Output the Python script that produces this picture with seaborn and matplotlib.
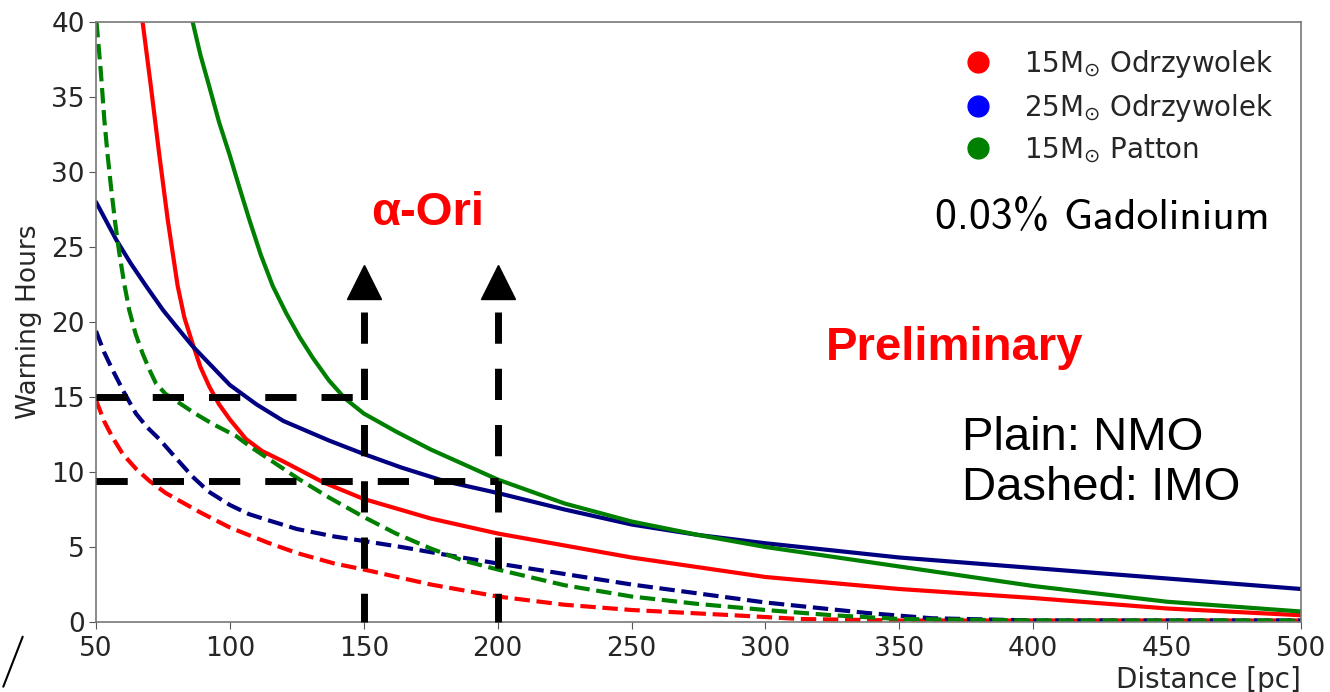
import seaborn as sns
import matplotlib.pyplot as plt
from matplotlib.lines import Line2D
import pandas as pd

# warning hours vs distance
# solid = NMO, dashed = IMO
red_nmo_x = [67.4, 70.5, 73.6, 76.8, 80.5, 83, 86, 89, 92.3, 96, 100, 106, 112, 120, 135, 150, 175, 200, 225, 250, 300, 350, 400, 450, 500]
red_nmo_y = [40, 35.7, 31.2, 26.8, 22.4, 20.3, 18.6, 17.0, 15.7, 14.5, 13.5, 12.2, 11.4, 10.7, 9.3, 8.2, 6.9, 5.9, 5.1, 4.3, 3.0, 2.2, 1.6, 0.9, 0.45]

blue_nmo_x = [50, 57.5, 63, 68.7, 75, 80, 86, 93, 100, 110, 120, 137, 150, 164, 180, 200, 225, 250, 275, 300, 350, 400, 450, 500]
blue_nmo_y = [28.0, 25.5, 23.9, 22.4, 20.8, 19.7, 18.4, 17.1, 15.8, 14.5, 13.4, 12.1, 11.2, 10.3, 9.4, 8.6, 7.5, 6.5, 5.8, 5.25, 4.3, 3.6, 2.9, 2.2]

green_nmo_x = [86.1, 89, 92.3, 96, 99.8, 103.5, 107.3, 111.5, 116, 121, 126, 131, 137, 143, 150, 162, 175, 200, 225, 250, 275, 300, 350, 400, 450, 500]
green_nmo_y = [40, 37.8, 35.7, 33.3, 31.2, 29.0, 26.8, 24.5, 22.4, 20.6, 19.0, 17.6, 16.1, 14.9, 13.9, 12.7, 11.5, 9.5, 7.9, 6.7, 5.8, 5.0, 3.7, 2.4, 1.35, 0.7]

red_imo_x = [50, 53, 56.2, 60, 65, 70, 76, 82, 89, 100, 114, 125, 139, 150, 175, 200, 225, 250, 288, 313, 350, 400, 450, 500]
red_imo_y = [14.8, 13.4, 12.3, 11.2, 10.2, 9.4, 8.6, 8.0, 7.3, 6.3, 5.3, 4.6, 3.9, 3.5, 2.5, 1.7, 1.15, 0.8, 0.45, 0.2, 0.1, 0.1, 0.1, 0.1]

blue_imo_x = [50, 53, 56.2, 60.5, 64.9, 69, 73.6, 80, 86, 92, 100, 107, 114, 125, 139, 150, 164, 180, 200, 225, 250, 275, 300, 338, 362, 400, 450, 500]
blue_imo_y = [19.4, 18.0, 16.8, 15.3, 13.9, 13.0, 12.2, 10.9, 9.7, 8.7, 7.8, 7.2, 6.8, 6.2, 5.7, 5.4, 5.0, 4.5, 3.9, 3.2, 2.5, 1.9, 1.3, 0.6, 0.25, 0.1, 0.1, 0.1]

green_imo_x = [50.2, 51.8, 53.1, 54.3, 55.6, 57.1, 58.7, 60.5, 62.4, 64.8, 67.4, 70, 72.4, 76, 81.1, 87, 93.6, 102.3, 107.5, 126, 137, 150, 162, 175, 187, 200, 225, 250, 275, 300, 325, 350, 400, 450, 500]
green_imo_y = [40, 36.7, 33.5, 31.2, 29.0, 26.7, 24.6, 22.6, 20.8, 19.2, 17.9, 16.8, 15.9, 15.2, 14.6, 13.9, 13.2, 12.4, 11.7, 9.5, 8.3, 7.0, 5.9, 4.9, 4.1, 3.5, 2.45, 1.7, 1.2, 0.8, 0.45, 0.2, 0.1, 0.1, 0.1]

legend_labels = [r"15M$_{\odot}$ Odrzywolek", r"25M$_{\odot}$ Odrzywolek", r"15M$_{\odot}$ Patton"]
legend_colors = ["red", "blue", "green"]

# alpha-Ori guide lines
guide_h = [15, 9.4]
guide_h_end = [150, 200]
guide_v = [150, 200]
guide_top = 20.7
arrow_y = 22.7

sns.set_style("ticks")
plt.rcParams["font.family"] = ["DejaVu Sans"]

fig, ax = plt.subplots(figsize=(13.3, 6.92), dpi=100)
fig.subplots_adjust(left=96/1330, right=1301/1330, top=1-22/692, bottom=1-622/692)

curves = [
    (red_nmo_x, red_nmo_y, "red", "-"),
    (blue_nmo_x, blue_nmo_y, "navy", "-"),
    (green_nmo_x, green_nmo_y, "green", "-"),
    (red_imo_x, red_imo_y, "red", "--"),
    (blue_imo_x, blue_imo_y, "navy", "--"),
    (green_imo_x, green_imo_y, "green", "--"),
]
for xs, ys, c, ls in curves:
    df = pd.DataFrame({"x": xs, "y": ys})
    sns.lineplot(data=df, x="x", y="y", color=c, linestyle=ls, linewidth=3, ax=ax)

dash = (0, (4.5, 3.6))
for y, xe in zip(guide_h, guide_h_end):
    ax.plot([50, xe], [y, y], color="black", lw=5, linestyle=dash, zorder=5)
for x in guide_v:
    ax.plot([x, x], [guide_top, 0], color="black", lw=5, linestyle=dash, zorder=5, clip_on=False)
    ax.plot([x], [arrow_y], marker="^", markersize=24, color="black", zorder=5, clip_on=False)

ax.set_xlim(50, 500)
ax.set_ylim(0, 40)
ax.set_xticks(range(50, 501, 50))
ax.set_yticks(range(0, 41, 5))
ax.tick_params(labelsize=19, length=5, color="#555555")
ax.tick_params(axis="x", pad=5)
ax.tick_params(axis="y", pad=3)
for s in ax.spines.values():
    s.set_color("#777777")
    s.set_linewidth(1.2)
ax.set_xlabel("Distance [pc]", fontsize=20, loc="right", labelpad=3)
ax.set_ylabel("Warning Hours", fontsize=19, labelpad=7)

handles = [Line2D([], [], marker="o", linestyle="none", color=c, markersize=15) for c in legend_colors]
ax.legend(handles, legend_labels, loc="upper right", bbox_to_anchor=(0.998, 0.998),
          frameon=False, fontsize=20, labelspacing=0.42, handletextpad=0.9, handlelength=1.5)

tx = lambda px: (px - 96) / 1205
ty = lambda py: (622 - py) / 600
ax.text(tx(428), ty(213), "α-Ori", color="red", fontsize=34, fontweight="bold",
        family="Liberation Sans", ha="center", va="center", transform=ax.transAxes)
ax.text(tx(826), ty(348), "Preliminary", color="red", fontsize=34, fontweight="bold",
        family="Liberation Sans", ha="left", va="center", transform=ax.transAxes)
ax.text(tx(962), ty(463), "Plain: NMO\nDashed: IMO", color="black", fontsize=34,
        family="Liberation Sans", ha="left", va="center", linespacing=1.15, transform=ax.transAxes)
ax.text(tx(935), ty(218), "0.03% Gadolinium", color="black", fontsize=31.5,
        family=["cmss10", "DejaVu Sans"], ha="left", va="center", transform=ax.transAxes)

# stray slash in the lower left corner
fig.add_artist(Line2D([22.7/1330, 3.3/1330], [1-636.7/692, 1-686.7/692], color="black", lw=1.5))

fig.savefig("out.png", dpi=100)
